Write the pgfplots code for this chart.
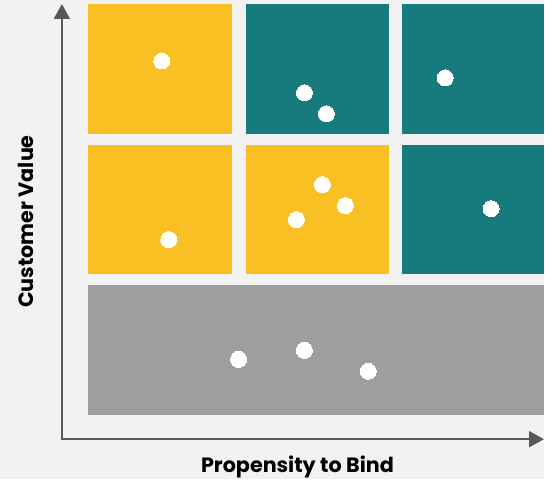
\documentclass[border=0pt]{standalone}
\usepackage{pgfplots}
\pgfplotsset{compat=1.18}
\usepackage{fontspec}
\setmainfont{Poppins}
\usetikzlibrary{arrows.meta}

\definecolor{bgcol}{HTML}{F2F2F2}
\definecolor{cellyellow}{HTML}{F8C023}
\definecolor{cellteal}{HTML}{177B7D}
\definecolor{cellgray}{HTML}{9E9E9E}
\definecolor{arrowcol}{HTML}{565C55}

\begin{document}
\begin{tikzpicture}
\begin{axis}[
  scale only axis,
  width=545bp, height=480bp,
  xmin=0, xmax=545, ymin=0, ymax=480,
  y dir=reverse,
  hide axis,
  clip=false,
]
% page background
\addplot[fill=bgcol, draw=none] coordinates {(0,0) (545,0) (545,480) (0,480)} -- cycle;

% top row
\addplot[fill=cellyellow, draw=none] coordinates {(88,4) (232,4) (232,134) (88,134)} -- cycle;
\addplot[fill=cellteal, draw=none] coordinates {(246,4) (390,4) (390,134) (246,134)} -- cycle;
\addplot[fill=cellteal, draw=none] coordinates {(403,4) (545,4) (545,134) (403,134)} -- cycle;
% middle row
\addplot[fill=cellyellow, draw=none] coordinates {(88,145) (232,145) (232,275) (88,275)} -- cycle;
\addplot[fill=cellyellow, draw=none] coordinates {(246,145) (390,145) (390,275) (246,275)} -- cycle;
\addplot[fill=cellteal, draw=none] coordinates {(403,145) (545,145) (545,275) (403,275)} -- cycle;
% bottom band
\addplot[fill=cellgray, draw=none] coordinates {(88,286) (545,286) (545,416) (88,416)} -- cycle;

% customers
\addplot[only marks, color=white, mark=*, mark size=8bp, mark options={fill=white, draw=white, line width=0pt}]
  coordinates {
    (162,61)
    (305,93) (327,114)
    (446,78)
    (169,240)
    (323,185) (346,206) (297,220)
    (492,209)
    (239,360) (305,351) (369,372)
  };

% axes arrows
\draw[arrowcol, line width=2bp, -{Triangle[length=15bp, width=16bp]}]
  (axis cs:62,440) -- (axis cs:62,4);
\draw[arrowcol, line width=2bp, -{Triangle[length=15bp, width=16bp]}]
  (axis cs:61,440) -- (axis cs:545,440);

\node[font=\bfseries\fontsize{20.8}{24}\selectfont, text=black]
  at (axis cs:298,468) {Propensity to Bind};
\node[font=\bfseries\fontsize{20.8}{24}\selectfont, text=black, rotate=90]
  at (axis cs:26,222) {Customer Value};
\end{axis}
\end{tikzpicture}
\end{document}
